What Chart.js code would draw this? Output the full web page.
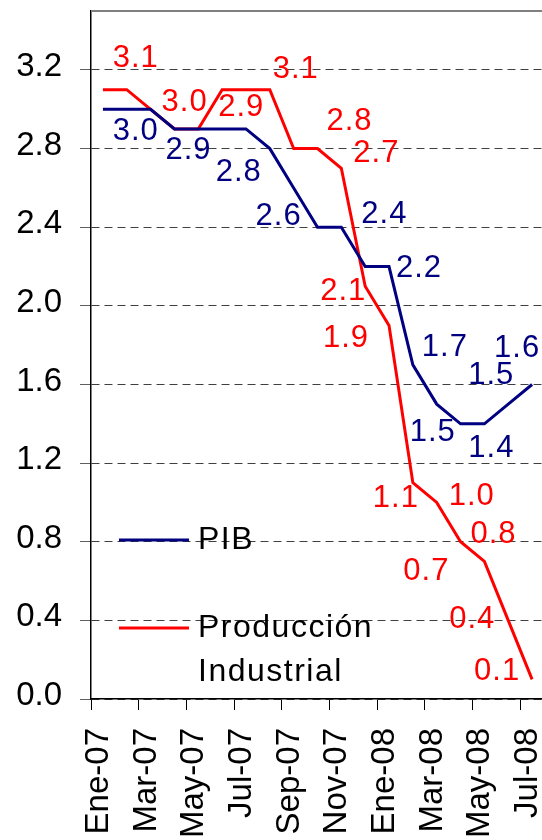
<!DOCTYPE html>
<html>
<head>
<meta charset="utf-8">
<script src="https://cdn.jsdelivr.net/npm/chart.js@4/dist/chart.umd.min.js"></script>
<style>
html, body { margin: 0; padding: 0; background: #fff; overflow: hidden; }
#wrap { width: 544px; height: 840px; }
canvas { display: block; }
</style>
</head>
<body>
<div id="wrap"><canvas id="chart" width="544" height="840"></canvas></div>
<script>
// donnees du graphe
const months = ['Ene-07', 'Feb-07', 'Mar-07', 'Abr-07', 'May-07', 'Jun-07', 'Jul-07', 'Ago-07', 'Sep-07', 'Oct-07',
    'Nov-07', 'Dic-07', 'Ene-08', 'Feb-08', 'Mar-08', 'Abr-08', 'May-08', 'Jun-08', 'Jul-08'];
const pib = [3.0, 3.0, 3.0, 2.9, 2.9, 2.9, 2.9, 2.8, 2.6, 2.4, 2.4, 2.2, 2.2, 1.7, 1.5, 1.4, 1.4, 1.5, 1.6];
const prodInd = [3.1, 3.1, 3.0, 2.9, 2.9, 3.1, 3.1, 3.1, 2.8, 2.8, 2.7, 2.1, 1.9, 1.1, 1.0, 0.8, 0.7, 0.4, 0.1];
const yTicks = [0, 0.4, 0.8, 1.2, 1.6, 2.0, 2.4, 2.8, 3.2];
const seriesNames = ['PIB', 'Producción Industrial'];
const seriesColors = ['#000080', '#FF0000'];

// etiquettes de valeurs : serie, point, decalage en pixels
const labelSpots = [
    { ds: 1, i: 1, dx: 9, dy: -31 },
    { ds: 1, i: 2, dx: 34, dy: -7 },
    { ds: 1, i: 4, dx: 43, dy: -21 },
    { ds: 1, i: 7, dx: 26, dy: -20 },
    { ds: 1, i: 9, dx: 32, dy: -27 },
    { ds: 1, i: 10, dx: 35, dy: -15 },
    { ds: 1, i: 11, dx: -22, dy: 5 },
    { ds: 1, i: 12, dx: -43, dy: 13 },
    { ds: 1, i: 13, dx: -17, dy: 16 },
    { ds: 1, i: 14, dx: 35, dy: -6 },
    { ds: 1, i: 15, dx: 33, dy: -7 },
    { ds: 1, i: 16, dx: -58, dy: 10 },
    { ds: 1, i: 17, dx: -36, dy: -1 },
    { ds: 1, i: 18, dx: -35, dy: -8 },
    { ds: 0, i: 1, dx: 9, dy: 22 },
    { ds: 0, i: 3, dx: 14, dy: 22 },
    { ds: 0, i: 7, dx: -31, dy: 24 },
    { ds: 0, i: 8, dx: -15, dy: 29 },
    { ds: 0, i: 10, dx: 43, dy: -13 },
    { ds: 0, i: 12, dx: 30, dy: 2 },
    { ds: 0, i: 13, dx: 32, dy: -17 },
    { ds: 0, i: 14, dx: -4, dy: 28 },
    { ds: 0, i: 16, dx: 7, dy: 25 },
    { ds: 0, i: 17, dx: -17, dy: -29 },
    { ds: 0, i: 18, dx: -15, dy: -36 }
];

const fam = "'Liberation Sans', Arial, sans-serif";

// petite bordure grise en haut du graphe
const topBorder = {
    id: 'topBorder',
    afterDraw(chart) {
        const { ctx, chartArea: a } = chart;
        ctx.save();
        ctx.strokeStyle = '#808080';
        ctx.lineWidth = 2;
        ctx.beginPath();
        ctx.moveTo(a.left, a.top);
        ctx.lineTo(a.right, a.top);
        ctx.stroke();
        ctx.restore();
    }
};

// valeurs ecrites a cote des courbes
const valueLabels = {
    id: 'valueLabels',
    afterDatasetsDraw(chart) {
        const ctx = chart.ctx, xs = chart.scales.x, ys = chart.scales.y;
        ctx.save();
        ctx.font = '31px ' + fam;
        ctx.letterSpacing = '1px';
        ctx.textAlign = 'center';
        ctx.textBaseline = 'middle';
        labelSpots.forEach(p => {
            const ds = chart.data.datasets[p.ds];
            const v = ds.data[p.i];
            ctx.fillStyle = ds.borderColor;
            ctx.fillText(v.toFixed(1), xs.getPixelForValue(p.i) + p.dx, ys.getPixelForValue(v) + p.dy);
        });
        ctx.restore();
    }
};

// legende dans la zone du graphe
const insideLegend = {
    id: 'insideLegend',
    afterDraw(chart) {
        const { ctx, chartArea: a } = chart;
        const rows = [a.bottom - 159, a.bottom - 71]; // y de chaque trait
        ctx.save();
        ctx.font = '32px ' + fam;
        ctx.letterSpacing = '1.5px';
        ctx.textAlign = 'left';
        ctx.textBaseline = 'alphabetic';
        chart.data.datasets.forEach((ds, k) => {
            const y = rows[k];
            ctx.strokeStyle = ds.borderColor;
            ctx.lineWidth = 3;
            ctx.beginPath();
            ctx.moveTo(a.left + 28, y);
            ctx.lineTo(a.left + 98, y);
            ctx.stroke();
            ctx.fillStyle = '#000';
            ds.label.split(' ').forEach((line, j) => {
                ctx.fillText(line, a.left + 107, y + 9 + j * 43.5);
            });
        });
        ctx.restore();
    }
};

new Chart(document.getElementById('chart'), {
    type: 'line',
    data: {
        labels: months,
        datasets: [
            { label: seriesNames[0], data: pib, borderColor: seriesColors[0], borderWidth: 3, pointRadius: 0, tension: 0, fill: false },
            { label: seriesNames[1], data: prodInd, borderColor: seriesColors[1], borderWidth: 3, pointRadius: 0, tension: 0, fill: false }
        ]
    },
    options: {
        responsive: false,
        animation: false,
        devicePixelRatio: 1,
        layout: { padding: { top: 11, left: 0, right: 0, bottom: 0 } },
        plugins: { legend: { display: false }, tooltip: { enabled: false } },
        scales: {
            x: {
                type: 'category',
                offset: true,
                grid: {
                    offset: true,
                    drawOnChartArea: false,
                    tickLength: 11,
                    tickWidth: 1,
                    tickColor: c => (c.index % 2 === 0 ? '#000' : 'rgba(0,0,0,0)')
                },
                border: { color: '#000', width: 1.5 },
                ticks: {
                    autoSkip: false,
                    maxRotation: 90,
                    minRotation: 90,
                    padding: 18,
                    labelOffset: -4,
                    color: '#000',
                    font: { family: fam, size: 33 },
                    callback: (v, i) => (i % 2 === 0 ? months[i] : '')
                },
                afterFit: s => { s.height = 141; s.paddingLeft = 0; s.paddingRight = 0; }
            },
            y: {
                min: 0,
                max: 3.5,
                afterBuildTicks: s => { s.ticks = yTicks.map(v => ({ value: v })); },
                grid: { color: '#404040', lineWidth: 1, tickLength: 11, tickColor: '#606060', tickBorderDash: [] },
                border: { color: '#000', width: 1.5, dash: [8, 5] },
                ticks: {
                    padding: 18,
                    labelOffset: -3,
                    color: '#000',
                    font: { family: fam, size: 33 },
                    callback: v => Number(v).toFixed(1)
                },
                afterFit: s => { s.width = 91; s.paddingTop = 0; s.paddingBottom = 0; }
            }
        }
    },
    plugins: [topBorder, valueLabels, insideLegend]
});
</script>
</body>
</html>
